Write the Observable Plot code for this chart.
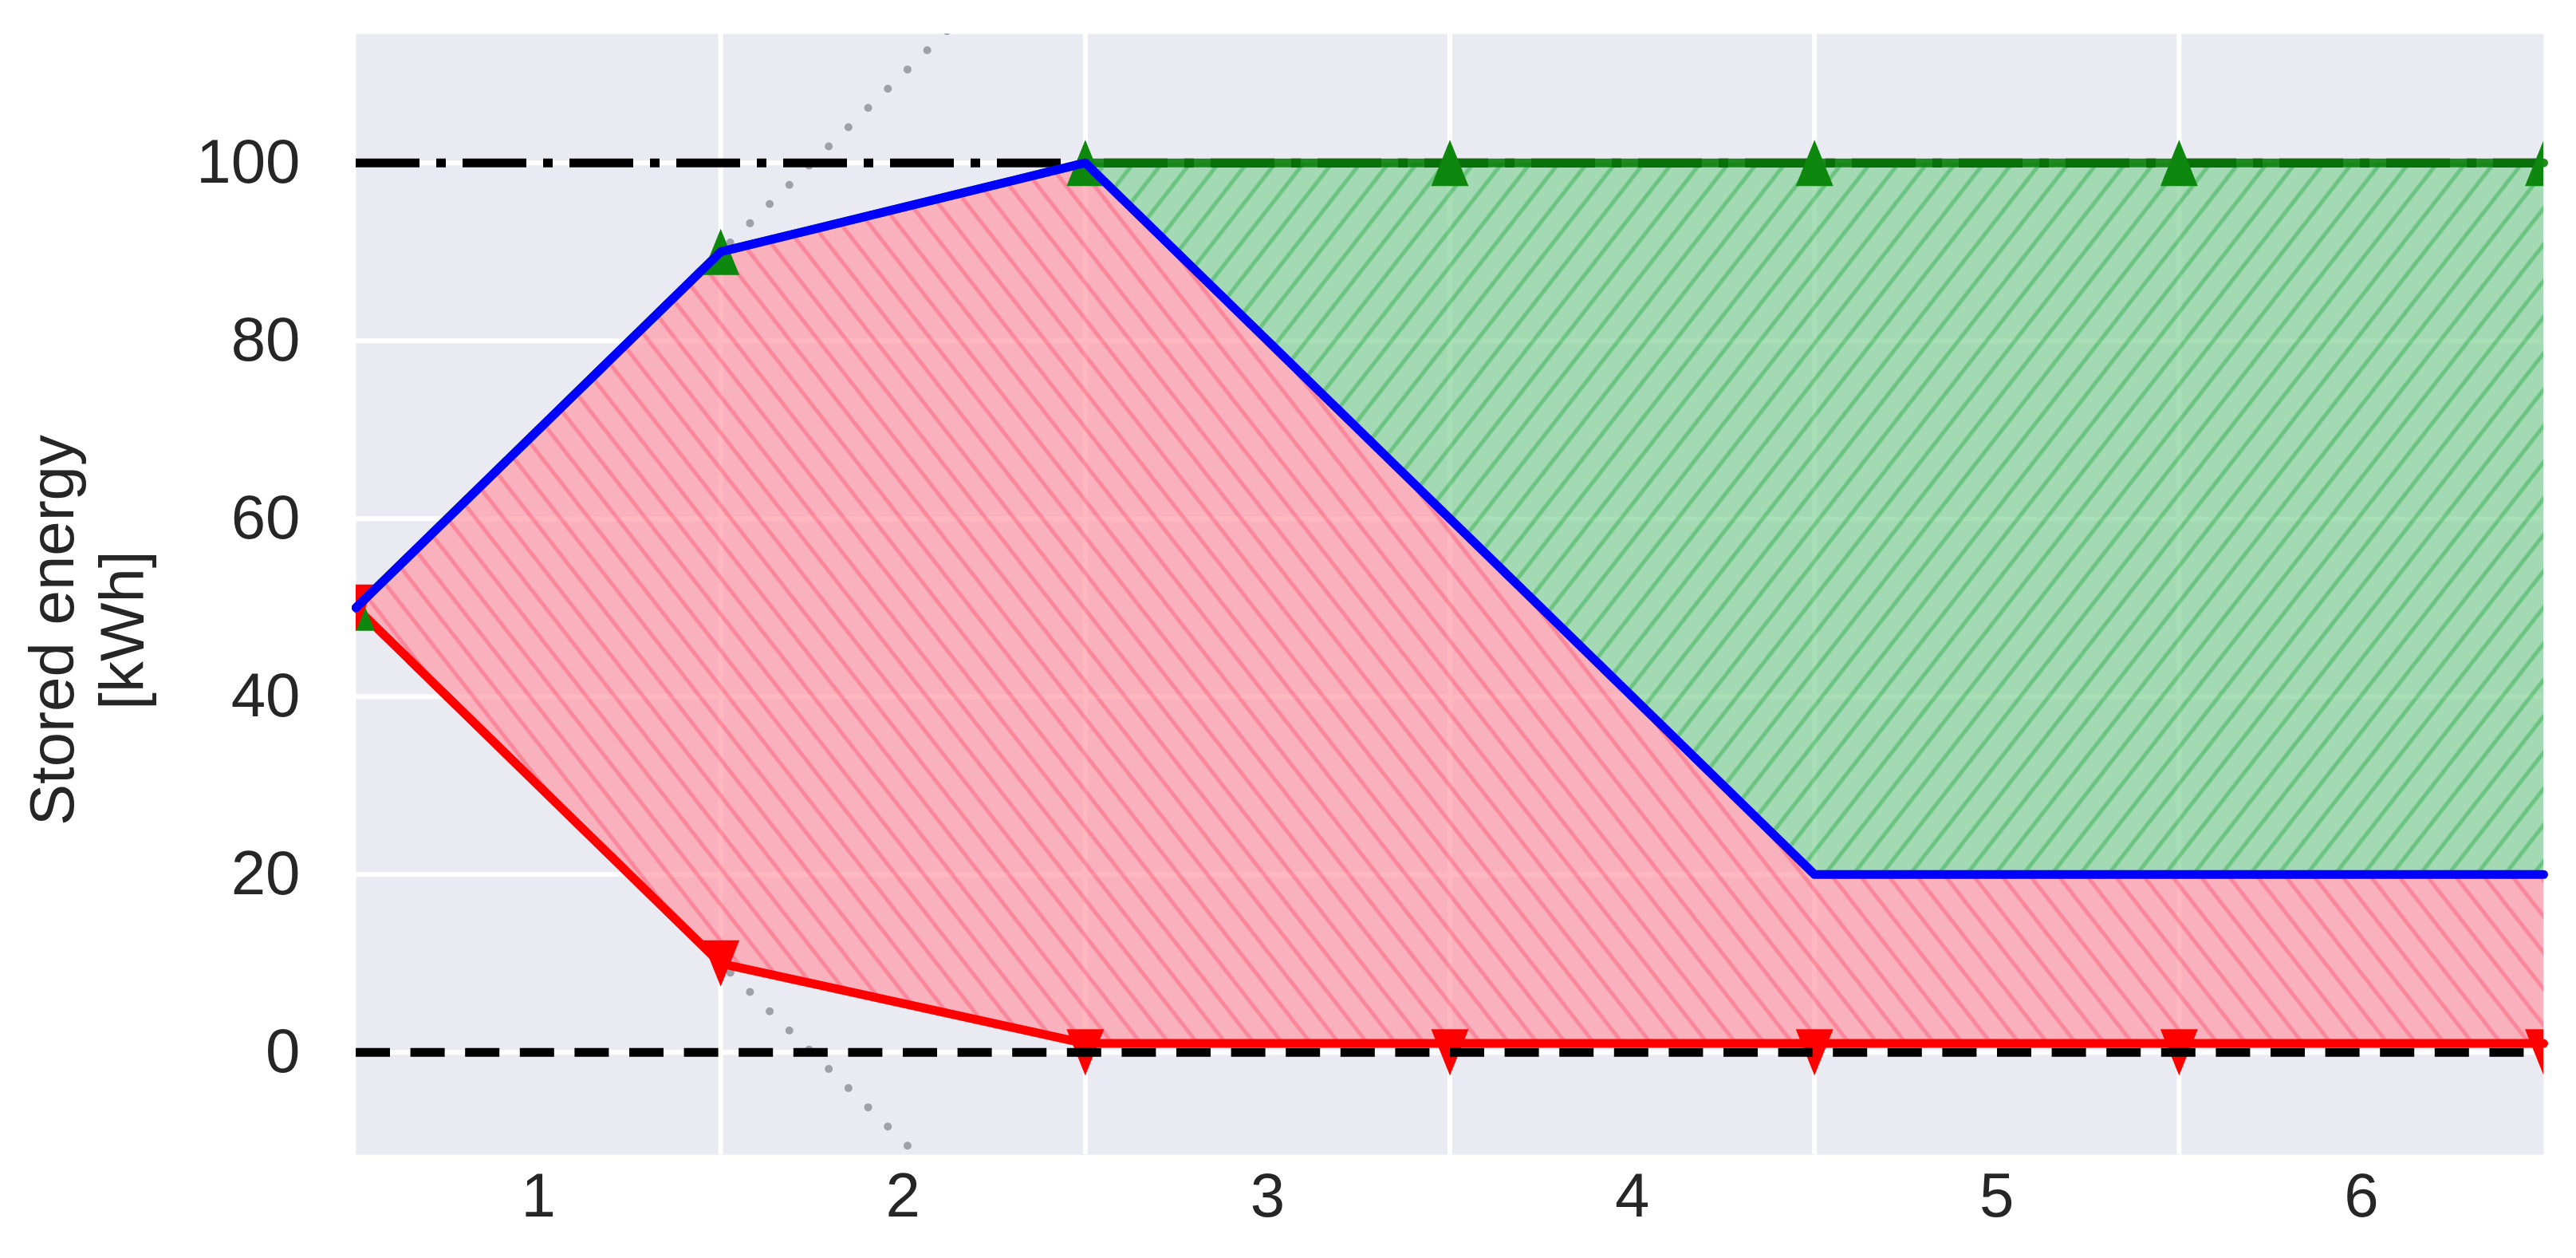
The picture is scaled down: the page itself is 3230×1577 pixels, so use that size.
<!DOCTYPE html>
<html><head><meta charset="utf-8">
<script src="https://cdn.jsdelivr.net/npm/d3@7"></script>
<script src="https://cdn.jsdelivr.net/npm/@observablehq/plot@0.6"></script>
<style>
html,body{margin:0;padding:0;background:#fff;}
</style></head><body><div id="chart"></div>
<script>
// ---- data ----
const steps = [0, 1, 2, 3, 4, 5, 6];
const socTrajectory = [50, 90, 100, 60, 20, 20, 20];      // blue line
const lowerPath = [50, 10, 1, 1, 1, 1, 1];                // red line
const upperPath = [50, 90, 100, 100, 100, 100, 100];      // green line
const upperBound = [50, 90, 100, 100, 100, 100, 100];     // green ▲ markers
const lowerBound = [50, 10, 0, 0, 0, 0, 0];               // red ▼ markers
const rateSteps = [0, 1, 2];
const maxCharge = [50, 90, 130];                          // grey dotted (up)
const maxDischarge = [50, 10, -30];                       // grey dotted (down)
const capacityMax = [100];
const capacityMin = [0];
const xTickPos = [0.5, 1.5, 2.5, 3.5, 4.5, 5.5];
const xTickLabels = ["1", "2", "3", "4", "5", "6"];
const xGrid = [1, 2, 3, 4, 5];
const yTicks = [0, 20, 40, 60, 80, 100];
const yLabelLines = ["Stored energy", "[kWh]"];

const table = steps.map((t, i) => ({
  t, soc: socTrajectory[i], lo: lowerPath[i], up: upperPath[i],
  ub: upperBound[i], lb: lowerBound[i]
}));
const rateTable = rateSteps.map((t, i) => ({t, up: maxCharge[i], down: maxDischarge[i]}));

const FONT = "'Liberation Sans', Arial, Helvetica, sans-serif";

const triangle = {
  draw(ctx, size) {
    const s = Math.sqrt(size);
    const hw = 0.42 * s, hh = 0.52 * s;
    ctx.moveTo(0, -hh); ctx.lineTo(hw, hh); ctx.lineTo(-hw, hh); ctx.closePath();
  }
};

function defsMark() {
  const ns = "http://www.w3.org/2000/svg";
  const d = document.createElementNS(ns, "defs");
  d.innerHTML = `
  <pattern id="hatchRed" patternUnits="userSpaceOnUse" width="28" height="28" patternTransform="rotate(-38)">
    <rect width="28" height="28" fill="#FF9CA8"/>
    <line x1="14" y1="-2" x2="14" y2="30" stroke="#FF6078" stroke-width="5"/>
  </pattern>
  <pattern id="hatchGreen" patternUnits="userSpaceOnUse" width="28" height="28" patternTransform="rotate(38)">
    <rect width="28" height="28" fill="#88D29A"/>
    <line x1="14" y1="-2" x2="14" y2="30" stroke="#3AB456" stroke-width="5"/>
  </pattern>`;
  return d;
}

function yLabelMark() {
  const ns = "http://www.w3.org/2000/svg";
  const g = document.createElementNS(ns, "g");
  g.setAttribute("transform", "translate(0,790) rotate(-90)");
  const baselines = [92, 180];
  yLabelLines.forEach((txt, i) => {
    const t = document.createElementNS(ns, "text");
    t.setAttribute("x", 0);
    t.setAttribute("y", baselines[i]);
    t.setAttribute("text-anchor", "middle");
    t.setAttribute("font-size", 78);
    t.setAttribute("font-family", FONT);
    t.setAttribute("fill", "#262626");
    t.textContent = txt;
    g.appendChild(t);
  });
  return g;
}

const chart = Plot.plot({
  width: 3230,
  height: 1577,
  marginLeft: 446,
  marginRight: 41,
  marginTop: 42,
  marginBottom: 130,
  style: {fontFamily: FONT, fontSize: "78px", color: "#262626", background: "#fff"},
  x: {domain: [0, 6], ticks: xTickPos, tickFormat: d => xTickLabels[xTickPos.indexOf(d)], tickSize: 0, tickPadding: 22, label: null},
  y: {domain: [-11.5, 114.5], ticks: yTicks, tickSize: 0, tickPadding: 70, label: null},
  marks: [
    defsMark,
    Plot.frame({fill: "#EAEAF2", stroke: "none"}),
    Plot.ruleY(yTicks, {stroke: "#fff", strokeWidth: 6}),
    Plot.ruleX(xGrid, {stroke: "#fff", strokeWidth: 6}),
    Plot.areaY(table, {x: "t", y1: "lo", y2: "soc", fill: "url(#hatchRed)", fillOpacity: 0.72}),
    Plot.areaY(table, {x: "t", y1: "soc", y2: "up", fill: "url(#hatchGreen)", fillOpacity: 0.72}),
    Plot.line(rateTable, {x: "t", y: "up", stroke: "#a0a0aa", strokeWidth: 10, strokeDasharray: "0,34.5", strokeLinecap: "round", clip: true}),
    Plot.line(rateTable, {x: "t", y: "down", stroke: "#a0a0aa", strokeWidth: 10, strokeDasharray: "0,34.5", strokeLinecap: "round", clip: true}),
    Plot.ruleY(capacityMax, {stroke: "#000", strokeWidth: 11, strokeDasharray: "80,21,12,21"}),
    Plot.line(table, {x: "t", y: "up", stroke: "#0A7D0A", strokeWidth: 11, strokeOpacity: 0.9}),
    Plot.line(table, {x: "t", y: "lo", stroke: "#FF0000", strokeWidth: 11}),
    Plot.dot(table, {x: "t", y: "ub", symbol: triangle, r: 31.5, fill: "#0E870E", stroke: "none", clip: true}),
    Plot.dot(table, {x: "t", y: "lb", symbol: triangle, r: 31.5, rotate: 180, fill: "#FF0000", stroke: "none", clip: true}),
    Plot.ruleY(capacityMin, {stroke: "#000", strokeWidth: 11, strokeDasharray: "43,25.6"}),
    Plot.line(table, {x: "t", y: "soc", stroke: "#0000FF", strokeWidth: 11}),
    yLabelMark
  ]
});
document.getElementById("chart").appendChild(chart);
</script>
</body></html>
